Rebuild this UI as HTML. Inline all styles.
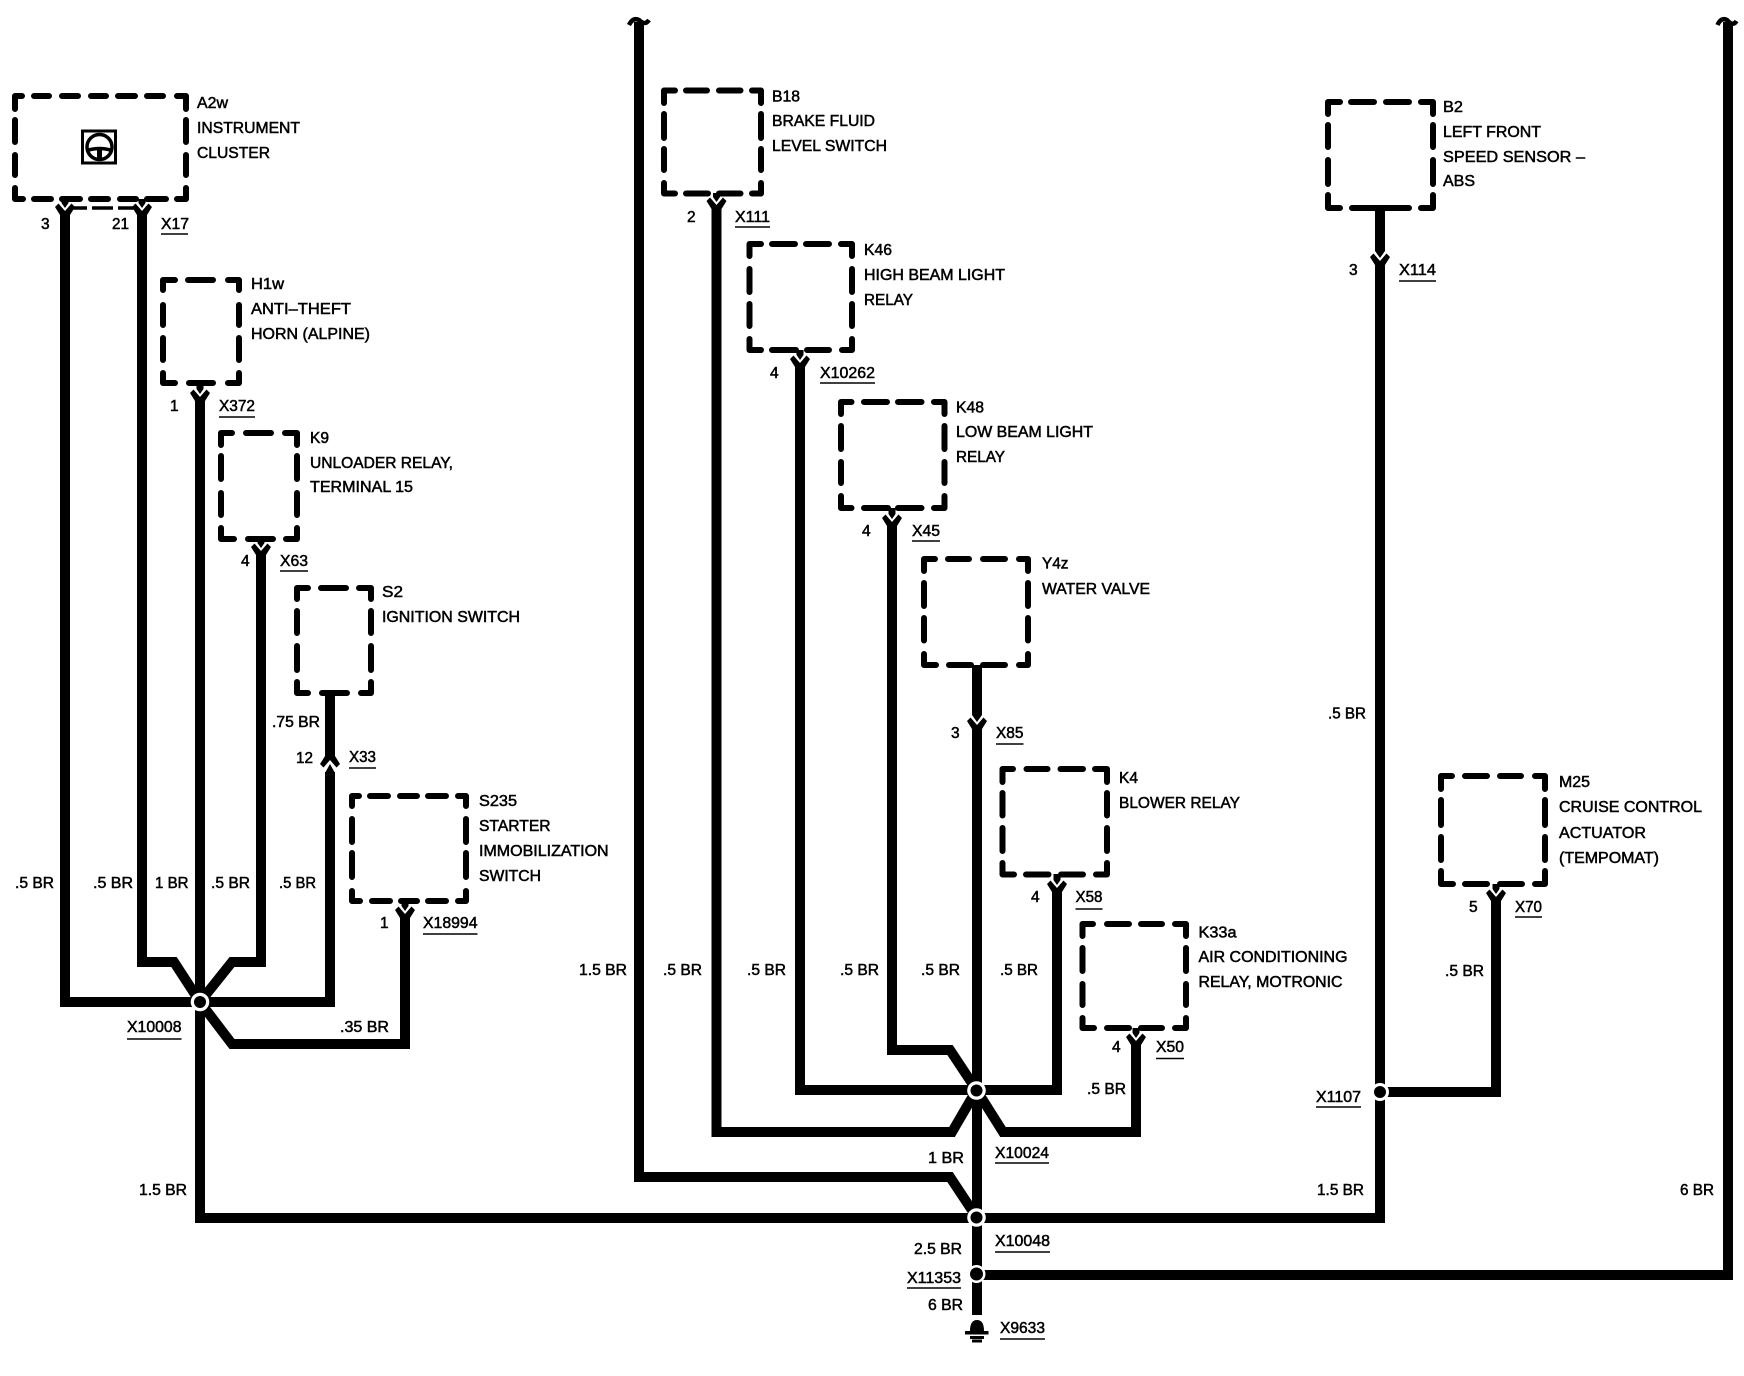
<!DOCTYPE html>
<html>
<head>
<meta charset="utf-8">
<style>
html,body{margin:0;padding:0;background:#fff;width:1744px;height:1376px;overflow:hidden}
svg{display:block}
text{font-family:"Liberation Sans",sans-serif;font-size:15.5px;fill:#000;stroke:#000;stroke-width:.5}
.b{fill:none;stroke:#000;stroke-width:6;stroke-linejoin:round;stroke-linecap:round}
.w{fill:none;stroke:#000;stroke-width:10;stroke-linejoin:miter}
.s{fill:none;stroke:#000;stroke-width:7}
.u{fill:none;stroke:#000;stroke-width:1.6}
</style>
</head>
<body>
<svg width="1744" height="1376" viewBox="0 0 1744 1376" xmlns="http://www.w3.org/2000/svg">
<defs>
<path id="h" d="M-10-4L-6.500-7.500L0 0L6.500-7.500L10-4L5 4V8H-5V4Z" fill="#000"/>
<path id="t" d="M-3.500-9H3.500V-8L0-3L-3.500-8Z" fill="#000"/>
<path id="T" d="M-5-12H5V-10L0-3L-5-10Z" fill="#000"/>
</defs>
<rect width="1744" height="1376" fill="#fff"/>

<!-- boxes -->
<path class="b" d="M22 96H15V109M177 96H186V109M23 199H15V188M177 199H186V188M34 96H49M62 96H78M91 96H106M118 96H135M147 96H163M34 199H51M62 199H80M91 199H108M120 199H136M147 199H166M15 120V142M15 155V175M186 120V142M186 155V175"/>
<path class="b" d="M175 280H163V290M228 280H239V290M175 383H163V373M228 383H239V373M188 280H213M189 383H213M163 305V325M163 338V360M239 305V325M239 338V360"/>
<path class="b" d="M232 433H221V445M285 433H297V445M234 539H221V528M286 539H297V528M246 433H271M248 539H273M221 456V479M221 493V515M297 456V479M297 493V515"/>
<path class="b" d="M308 588H297V599M359 588H371V599M308 693H297V682M361 693H371V682M321 588H346M322 693H347M297 611V633M297 646V670M371 611V633M371 646V670"/>
<path class="b" d="M359 796H352V806M458 796H466V806M360 901H352V891M458 901H466V891M370 796H388M400 796H417M428 796H446M372 901H390M401 901H417M428 901H446M352 819V842M352 853V877M466 819V842M466 853V877"/>
<path class="b" d="M675 90.500H664V103M752 90.500H761V103M675 193.500H664V183M752 193.500H761V183M686 90.500H707M719 90.500H740.500M686 193.500H708M719 193.500H740.500M664 114V138M664 149V170M761 114V138M761 149V170"/>
<path class="b" d="M761 244H749.500V256M841 244H852V256M761 350H749.500V339M842 350H852V339M772 244H795M806 244H829M772 350H796M807 350H829M749.500 269V292M749.500 304V326M852 269V292M852 304V326"/>
<path class="b" d="M851.500 402H841V414M934 402H944.500V414M851.500 508H841V496M934 508H944.500V496M864 402H887M898 402H921.500M864 508H888M898 508H921.500M841 426V449M841 462V483M944.500 426V449M944.500 462V483"/>
<path class="b" d="M935 559H924V571M1019 559H1028V571M936 665H924V654M1019 665H1028V654M948 559H969M983 559H1005M949 665H971M983 665H1005M924 583V606M924 618V640.500M1028 583V606M1028 618V640.500"/>
<path class="b" d="M1013 769H1002.500V782M1095 769H1107V782M1014 874.500H1002.500V863M1096 874.500H1107V863M1026.500 769H1047.500M1060.500 769H1083M1026 874.500H1048.500M1061 874.500H1083M1002.500 793V815.500M1002.500 828V851M1107 793V815.500M1107 828V851"/>
<path class="b" d="M1093 924H1082.500V936M1175 924H1186V936M1094 1028H1082.500V1018M1175 1028H1186V1018M1107 924H1129M1141 924H1162M1107 1028H1129M1141 1028H1162M1082.500 948V971M1082.500 984V1005M1186 948V971M1186 984V1005"/>
<path class="b" d="M1340 102H1328V114M1421 102H1433V114M1340 208H1328V195M1421 208H1433V195M1351 102H1374M1386 102H1409M1352 208H1409M1328 125V147M1328 160V184M1433 125V147M1433 160V184"/>
<path class="b" d="M1452 776H1441V789M1535 776H1545V789M1453 884H1441V871M1535 884H1545V871M1465 776H1487M1500 776H1521M1465 884H1487M1500 884H1522M1441 800V825M1441 837V860M1545 800V825M1545 837V860"/>

<!-- dashed line under A2w -->
<path d="M72 208H87M92 208H113M118 208H134" fill="none" stroke="#000" stroke-width="3.500"/>

<!-- steering icon -->
<rect x="82.500" y="131" width="33" height="32" fill="#fff" stroke="#000" stroke-width="3"/>
<circle cx="99.500" cy="147" r="12.500" fill="none" stroke="#000" stroke-width="3.500"/>
<path d="M87 150.500Q99.500 146.500 112 150.500" fill="none" stroke="#000" stroke-width="3.500"/>
<path d="M99.500 148.500V159.500" fill="none" stroke="#000" stroke-width="5"/>

<!-- left group wires -->
<path class="w" d="M65 214V1002H200"/>
<path class="w" d="M142 214V962H174L200 1002"/>
<path class="w" d="M200 400V1218H1380"/>
<path class="w" d="M261 554V962H232L200 1002"/>
<path class="w" d="M330 772V1002H200"/>
<path class="w" d="M330 693V756"/>
<path d="M325 773L330 764L335 773Z" fill="#000"/>
<path class="w" d="M405 917V1044H232L200 1002"/>

<!-- centre group wires -->
<path class="w" d="M639 22V1177H950L976.500 1217"/>
<path class="w" d="M716.500 208V1132H952L976.500 1090"/>
<path class="w" d="M800 366V1090H976"/>
<path class="w" d="M892 525V1050H950L976.500 1090"/>
<path class="w" d="M977 665V714"/>
<path class="w" d="M977 728V1315"/>
<path class="w" d="M1057 891V1090H976"/>
<path class="w" d="M1136 1044V1132H1003L976.500 1090"/>

<!-- right wires -->
<path class="w" d="M1380 208V250"/>
<path class="w" d="M1380 264V1223"/>
<path class="w" d="M1496 900V1092H1380"/>
<path class="w" d="M976 1275H1728V22"/>

<!-- connector stubs -->
<path class="s" d="M65 199V203M142 199V203M200 383V389M261 539V543M405 901V906M716.500 193V197M800 350V355M892 508V514M1057 874V880M1136 1028V1033M1496 884V889"/>

<!-- connector heads -->
<use href="#h" x="65" y="211"/><use href="#t" x="65" y="211"/>
<use href="#h" x="142" y="211"/><use href="#t" x="142" y="211"/>
<use href="#h" x="200" y="397"/><use href="#t" x="200" y="397"/>
<use href="#h" x="261" y="551"/><use href="#t" x="261" y="551"/>
<use href="#h" x="405" y="914"/><use href="#t" x="405" y="914"/>
<use href="#h" x="716.500" y="205"/><use href="#t" x="716.500" y="205"/>
<use href="#h" x="800" y="363"/><use href="#t" x="800" y="363"/>
<use href="#h" x="892" y="522"/><use href="#t" x="892" y="522"/>
<use href="#h" x="977" y="725"/><use href="#T" x="977" y="725"/>
<use href="#h" x="1057" y="888"/><use href="#t" x="1057" y="888"/>
<use href="#h" x="1136" y="1041"/><use href="#t" x="1136" y="1041"/>
<use href="#h" x="1380" y="261"/><use href="#T" x="1380" y="261"/>
<use href="#h" x="1496" y="897"/><use href="#t" x="1496" y="897"/>
<g transform="translate(330 760) scale(1 -1)"><use href="#h"/></g>

<!-- tilde ends -->
<path d="M629 25Q633 17 639 20Q645 26 649 20" fill="none" stroke="#000" stroke-width="4.500"/>
<path d="M1717.500 25Q1721 17 1727 20Q1733 27 1736.500 21" fill="none" stroke="#000" stroke-width="4.500"/>

<!-- junctions -->
<circle cx="200" cy="1002" r="9.300" fill="#fff"/><circle cx="200" cy="1002" r="6" fill="#000"/>
<circle cx="976.500" cy="1090.500" r="9.300" fill="#fff"/><circle cx="976.500" cy="1090.500" r="6" fill="#000"/>
<circle cx="976.500" cy="1217.500" r="9.300" fill="#fff"/><circle cx="976.500" cy="1217.500" r="6" fill="#000"/>
<circle cx="976.500" cy="1274" r="9" fill="#fff"/><circle cx="976.500" cy="1274" r="6.500" fill="#000"/>
<circle cx="1380" cy="1092" r="9" fill="#fff"/><circle cx="1380" cy="1092" r="6" fill="#000"/>

<!-- ground -->
<path d="M970 1331Q970 1320 977 1320Q984 1320 984 1331H988.500V1334.500H965V1331Z" fill="#000"/>
<rect x="970" y="1336" width="14" height="3" fill="#000"/>
<rect x="972" y="1339.500" width="10" height="3" fill="#000"/>

<!-- underlines -->
<path class="u" d="M161 234H188M219 417H255M280 571H308M349 768H376M423 934H477.500M127 1039H181.500M735 227H770M820 383H875M912 541H940M996 744H1023.500M1075.500 909H1102.500M1156 1058.500H1184M995 1163H1049M995 1252H1050M907 1288H961M1000 1339H1045M1399 281H1436M1515 917H1542M1316 1107H1361"/>

<!-- component labels -->
<text x="197" y="108" textLength="31" lengthAdjust="spacingAndGlyphs">A2w</text>
<text x="197" y="133" textLength="103" lengthAdjust="spacingAndGlyphs">INSTRUMENT</text>
<text x="197" y="158" textLength="73" lengthAdjust="spacingAndGlyphs">CLUSTER</text>
<text x="251" y="289" textLength="33" lengthAdjust="spacingAndGlyphs">H1w</text>
<text x="251" y="314" textLength="100" lengthAdjust="spacingAndGlyphs">ANTI–THEFT</text>
<text x="251" y="339" textLength="119" lengthAdjust="spacingAndGlyphs">HORN (ALPINE)</text>
<text x="310" y="443" textLength="19" lengthAdjust="spacingAndGlyphs">K9</text>
<text x="310" y="468" textLength="143" lengthAdjust="spacingAndGlyphs">UNLOADER RELAY,</text>
<text x="310" y="492" textLength="103" lengthAdjust="spacingAndGlyphs">TERMINAL 15</text>
<text x="382" y="597" textLength="21" lengthAdjust="spacingAndGlyphs">S2</text>
<text x="382" y="622" textLength="138" lengthAdjust="spacingAndGlyphs">IGNITION SWITCH</text>
<text x="479" y="806" textLength="38" lengthAdjust="spacingAndGlyphs">S235</text>
<text x="479" y="831" textLength="71.600" lengthAdjust="spacingAndGlyphs">STARTER</text>
<text x="479" y="856" textLength="129.600" lengthAdjust="spacingAndGlyphs">IMMOBILIZATION</text>
<text x="479" y="881" textLength="62" lengthAdjust="spacingAndGlyphs">SWITCH</text>
<text x="772" y="101.500" textLength="28" lengthAdjust="spacingAndGlyphs">B18</text>
<text x="772" y="126" textLength="103" lengthAdjust="spacingAndGlyphs">BRAKE FLUID</text>
<text x="772" y="151" textLength="115" lengthAdjust="spacingAndGlyphs">LEVEL SWITCH</text>
<text x="864" y="255" textLength="28" lengthAdjust="spacingAndGlyphs">K46</text>
<text x="864" y="280" textLength="141" lengthAdjust="spacingAndGlyphs">HIGH BEAM LIGHT</text>
<text x="864" y="305" textLength="49" lengthAdjust="spacingAndGlyphs">RELAY</text>
<text x="956" y="412.500" textLength="28" lengthAdjust="spacingAndGlyphs">K48</text>
<text x="956" y="437" textLength="137" lengthAdjust="spacingAndGlyphs">LOW BEAM LIGHT</text>
<text x="956" y="462" textLength="49" lengthAdjust="spacingAndGlyphs">RELAY</text>
<text x="1042" y="568.500" textLength="26.500" lengthAdjust="spacingAndGlyphs">Y4z</text>
<text x="1042" y="594" textLength="108" lengthAdjust="spacingAndGlyphs">WATER VALVE</text>
<text x="1119" y="783" textLength="19" lengthAdjust="spacingAndGlyphs">K4</text>
<text x="1119" y="808" textLength="121" lengthAdjust="spacingAndGlyphs">BLOWER RELAY</text>
<text x="1198.500" y="937.500" textLength="38" lengthAdjust="spacingAndGlyphs">K33a</text>
<text x="1198.500" y="962" textLength="149" lengthAdjust="spacingAndGlyphs">AIR CONDITIONING</text>
<text x="1198.500" y="987" textLength="144" lengthAdjust="spacingAndGlyphs">RELAY, MOTRONIC</text>
<text x="1443" y="112" textLength="20" lengthAdjust="spacingAndGlyphs">B2</text>
<text x="1443" y="137" textLength="98" lengthAdjust="spacingAndGlyphs">LEFT FRONT</text>
<text x="1443" y="162" textLength="142" lengthAdjust="spacingAndGlyphs">SPEED SENSOR –</text>
<text x="1443" y="186" textLength="32" lengthAdjust="spacingAndGlyphs">ABS</text>
<text x="1559" y="787" textLength="31" lengthAdjust="spacingAndGlyphs">M25</text>
<text x="1559" y="812" textLength="143" lengthAdjust="spacingAndGlyphs">CRUISE CONTROL</text>
<text x="1559" y="838" textLength="87" lengthAdjust="spacingAndGlyphs">ACTUATOR</text>
<text x="1559" y="863" textLength="100" lengthAdjust="spacingAndGlyphs">(TEMPOMAT)</text>

<!-- pins and connectors -->
<text x="41" y="229">3</text>
<text x="112" y="229" textLength="17" lengthAdjust="spacingAndGlyphs">21</text>
<text x="161" y="229" textLength="28" lengthAdjust="spacingAndGlyphs">X17</text>
<text x="170" y="411">1</text>
<text x="219" y="411" textLength="36" lengthAdjust="spacingAndGlyphs">X372</text>
<text x="241" y="566">4</text>
<text x="280" y="566" textLength="28" lengthAdjust="spacingAndGlyphs">X63</text>
<text x="296" y="763" textLength="17" lengthAdjust="spacingAndGlyphs">12</text>
<text x="349" y="762" textLength="27" lengthAdjust="spacingAndGlyphs">X33</text>
<text x="380" y="928">1</text>
<text x="423" y="928" textLength="54.500" lengthAdjust="spacingAndGlyphs">X18994</text>
<text x="127" y="1032" textLength="54.500" lengthAdjust="spacingAndGlyphs">X10008</text>
<text x="687" y="222">2</text>
<text x="735" y="222" textLength="35" lengthAdjust="spacingAndGlyphs">X111</text>
<text x="770" y="378">4</text>
<text x="820" y="378" textLength="55" lengthAdjust="spacingAndGlyphs">X10262</text>
<text x="862" y="536">4</text>
<text x="912" y="536" textLength="28" lengthAdjust="spacingAndGlyphs">X45</text>
<text x="951" y="738">3</text>
<text x="996" y="738" textLength="27.500" lengthAdjust="spacingAndGlyphs">X85</text>
<text x="1031" y="902">4</text>
<text x="1075.500" y="902" textLength="27" lengthAdjust="spacingAndGlyphs">X58</text>
<text x="1112" y="1052">4</text>
<text x="1156" y="1052" textLength="28" lengthAdjust="spacingAndGlyphs">X50</text>
<text x="995" y="1158" textLength="54" lengthAdjust="spacingAndGlyphs">X10024</text>
<text x="995" y="1246" textLength="55" lengthAdjust="spacingAndGlyphs">X10048</text>
<text x="907" y="1283" textLength="54" lengthAdjust="spacingAndGlyphs">X11353</text>
<text x="1000" y="1333" textLength="45" lengthAdjust="spacingAndGlyphs">X9633</text>
<text x="1349" y="275">3</text>
<text x="1399" y="275" textLength="37" lengthAdjust="spacingAndGlyphs">X114</text>
<text x="1469" y="912">5</text>
<text x="1515" y="912" textLength="27" lengthAdjust="spacingAndGlyphs">X70</text>
<text x="1316" y="1102" textLength="45" lengthAdjust="spacingAndGlyphs">X1107</text>

<!-- wire gauges -->
<text x="272" y="727" textLength="48" lengthAdjust="spacingAndGlyphs">.75 BR</text>
<text x="15" y="888" textLength="39" lengthAdjust="spacingAndGlyphs">.5 BR</text>
<text x="93" y="888" textLength="40" lengthAdjust="spacingAndGlyphs">.5 BR</text>
<text x="155" y="888" textLength="33.500" lengthAdjust="spacingAndGlyphs">1 BR</text>
<text x="211" y="888" textLength="39" lengthAdjust="spacingAndGlyphs">.5 BR</text>
<text x="279" y="888" textLength="37" lengthAdjust="spacingAndGlyphs">.5 BR</text>
<text x="340" y="1032" textLength="49" lengthAdjust="spacingAndGlyphs">.35 BR</text>
<text x="139" y="1195" textLength="48" lengthAdjust="spacingAndGlyphs">1.5 BR</text>
<text x="579" y="975" textLength="48" lengthAdjust="spacingAndGlyphs">1.5 BR</text>
<text x="663" y="975" textLength="39" lengthAdjust="spacingAndGlyphs">.5 BR</text>
<text x="747" y="975" textLength="39" lengthAdjust="spacingAndGlyphs">.5 BR</text>
<text x="840" y="975" textLength="39" lengthAdjust="spacingAndGlyphs">.5 BR</text>
<text x="921" y="975" textLength="39" lengthAdjust="spacingAndGlyphs">.5 BR</text>
<text x="1000" y="975" textLength="38" lengthAdjust="spacingAndGlyphs">.5 BR</text>
<text x="1087" y="1094" textLength="39" lengthAdjust="spacingAndGlyphs">.5 BR</text>
<text x="928" y="1163" textLength="36" lengthAdjust="spacingAndGlyphs">1 BR</text>
<text x="914" y="1254" textLength="48" lengthAdjust="spacingAndGlyphs">2.5 BR</text>
<text x="928" y="1310" textLength="35" lengthAdjust="spacingAndGlyphs">6 BR</text>
<text x="1328" y="718.500" textLength="38" lengthAdjust="spacingAndGlyphs">.5 BR</text>
<text x="1445" y="976" textLength="39" lengthAdjust="spacingAndGlyphs">.5 BR</text>
<text x="1317" y="1195" textLength="47" lengthAdjust="spacingAndGlyphs">1.5 BR</text>
<text x="1680" y="1195" textLength="34" lengthAdjust="spacingAndGlyphs">6 BR</text>
</svg>
</body>
</html>
